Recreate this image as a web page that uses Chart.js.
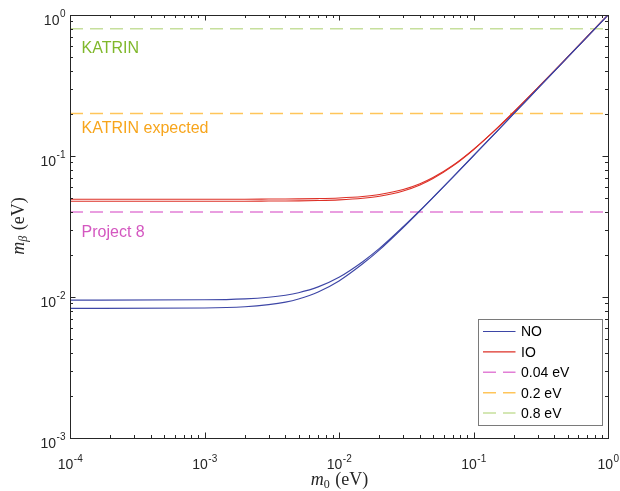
<!DOCTYPE html>
<html lang="en">
<head>
    <meta charset="UTF-8">
    <title>Neutrino mass m_beta vs m_0</title>
    <script src="https://cdn.jsdelivr.net/npm/chart.js"></script>
    <style>
        body { margin: 0; background: #fff; }
        #wrap { width: 620px; height: 491px; position: relative; }
    </style>
</head>
<body>
<div id="wrap"><canvas id="massChart"></canvas></div>
<script>
// lightest neutrino mass m0 (eV)
const m0 = [1e-4, 1e-3, 2e-3, 3e-3, 4e-3, 5e-3, 7e-3, 1e-2, 1.5e-2, 2e-2, 3e-2, 4e-2, 5e-2, 7e-2, 0.1, 0.15, 0.2, 0.3, 0.5, 0.7, 1];

// m_beta bands (eV)
const noUpper = [0.0095, 0.00955, 0.0097, 0.00996, 0.0103, 0.01073, 0.0118, 0.0138, 0.0178, 0.0221, 0.0315, 0.04111, 0.0509, 0.0706, 0.1005, 0.1503, 0.2002, 0.3002, 0.5001, 0.7, 1.0];
const noLower = [0.0083, 0.00836, 0.00853, 0.00883, 0.0092, 0.00969, 0.01086, 0.0130, 0.0172, 0.0216, 0.0311, 0.04085, 0.0507, 0.0705, 0.1004, 0.1502, 0.2002, 0.3001, 0.5001, 0.7, 1.0];
const ioUpper = [0.0494, 0.0494, 0.0494, 0.04949, 0.04956, 0.04965, 0.04989, 0.0504, 0.05162, 0.05329, 0.05779, 0.06356, 0.07029, 0.08567, 0.1115, 0.1579, 0.206, 0.304, 0.5024, 0.7017, 1.0];
const ioLower = [0.0478, 0.0478, 0.0478, 0.0479, 0.04797, 0.04806, 0.04831, 0.04884, 0.0501, 0.05182, 0.05644, 0.06233, 0.06917, 0.08476, 0.1108, 0.1574, 0.2056, 0.3038, 0.5023, 0.7016, 1.0];

// experimental sensitivities (eV)
const limits = [0.04, 0.2, 0.8];
const limitLabels = ['0.04 eV', '0.2 eV', '0.8 eV'];
const limitNames = ['Project 8', 'KATRIN expected', 'KATRIN'];
const limitColors = ['#e27fd6', '#ffc55a', '#c6df9c'];
const nameColors = ['#d457c0', '#f7a51c', '#80b82c'];
const nameY = [0.0288, 0.156, 0.58];   // where each name sits (data units)

const xRange = [1e-4, 1];
const yRange = [1e-3, 1];

function pts(ys) { return m0.map((x, i) => ({ x: x, y: ys[i] })); }

const datasets = [
    { label: 'NO', data: pts(noUpper), borderColor: '#3d46a6' },
    { label: '', data: pts(noLower), borderColor: '#3d46a6' },
    { label: 'IO', data: pts(ioUpper), borderColor: '#dd3027' },
    { label: '', data: pts(ioLower), borderColor: '#dd3027' }
].map(d => Object.assign(d, { borderWidth: 1.1, pointRadius: 0, cubicInterpolationMode: 'monotone', fill: false }));

limits.forEach((v, i) => {
    datasets.push({
        label: limitLabels[i],
        data: xRange.map(x => ({ x: x, y: v })),
        borderColor: limitColors[i],
        borderWidth: 1.5,
        borderDash: [13, 7],
        pointRadius: 0,
        fill: false
    });
});

const INK = '#262626';

function drawPow(ctx, exp, x, y, align) {
    ctx.font = '14px "Liberation Sans", Arial, sans-serif';
    const wb = ctx.measureText('10').width;
    ctx.font = '10px "Liberation Sans", Arial, sans-serif';
    const we = ctx.measureText(String(exp)).width;
    const start = align === 'right' ? x - wb - we : x - (wb + we) / 2;
    ctx.textAlign = 'left';
    ctx.textBaseline = 'alphabetic';
    ctx.font = '14px "Liberation Sans", Arial, sans-serif';
    ctx.fillText('10', start, y);
    ctx.font = '10px "Liberation Sans", Arial, sans-serif';
    ctx.fillText(String(exp), start + wb + 0.5, y - 7.5);
}

const decor = {
    id: 'decor',
    afterDatasetsDraw(chart) {
        const ctx = chart.ctx;
        const xs = chart.scales.x, ys = chart.scales.y;
        const a = chart.chartArea;
        ctx.save();

        // labels under the limit lines
        ctx.font = '16px "Liberation Sans", Arial, sans-serif';
        ctx.textAlign = 'left';
        ctx.textBaseline = 'middle';
        limitNames.forEach((t, i) => {
            ctx.fillStyle = nameColors[i];
            ctx.fillText(t, xs.getPixelForValue(1.22e-4), ys.getPixelForValue(nameY[i]));
        });

        // frame
        ctx.strokeStyle = INK;
        ctx.lineWidth = 1;
        ctx.strokeRect(Math.round(a.left) + 0.5, Math.round(a.top) + 0.5,
            Math.round(a.right - a.left), Math.round(a.bottom - a.top));

        // ticks, inward on all four sides
        ctx.beginPath();
        for (let e = -4; e <= 0; e++) {
            for (let k = 1; k <= 9; k++) {
                const v = k * Math.pow(10, e);
                if (v > 1.0001) break;
                const len = k === 1 ? 5.5 : 3;
                const px = Math.round(xs.getPixelForValue(v)) + 0.5;
                ctx.moveTo(px, a.bottom); ctx.lineTo(px, a.bottom - len);
                ctx.moveTo(px, a.top); ctx.lineTo(px, a.top + len);
            }
        }
        for (let e = -3; e <= 0; e++) {
            for (let k = 1; k <= 9; k++) {
                const v = k * Math.pow(10, e);
                if (v > 1.0001) break;
                const len = k === 1 ? 5.5 : 3;
                const py = Math.round(ys.getPixelForValue(v)) + 0.5;
                ctx.moveTo(a.left, py); ctx.lineTo(a.left + len, py);
                ctx.moveTo(a.right, py); ctx.lineTo(a.right - len, py);
            }
        }
        ctx.stroke();

        // tick labels
        ctx.fillStyle = INK;
        for (let e = -4; e <= 0; e++) {
            drawPow(ctx, e, xs.getPixelForValue(Math.pow(10, e)), a.bottom + 31, 'center');
        }
        for (let e = -3; e <= 0; e++) {
            drawPow(ctx, e, 65, ys.getPixelForValue(Math.pow(10, e)) + 9.5, 'right');
        }

        // axis titles
        const serif = '"Liberation Serif", "Times New Roman", serif';
        function mathTitle(sub, cx, cy) {
            ctx.textBaseline = 'alphabetic';
            ctx.textAlign = 'left';
            ctx.font = 'italic 18px ' + serif;
            const wm = ctx.measureText('m').width;
            ctx.font = (sub === '0' ? '' : 'italic ') + '12px ' + serif;
            const ws = ctx.measureText(sub).width;
            ctx.font = '18px ' + serif;
            const wr = ctx.measureText(' (eV)').width;
            let x = cx - (wm + ws + wr) / 2;
            ctx.font = 'italic 18px ' + serif;
            ctx.fillText('m', x, cy); x += wm;
            ctx.font = (sub === '0' ? '' : 'italic ') + '12px ' + serif;
            ctx.fillText(sub, x, cy + 3); x += ws + 1;
            ctx.font = '18px ' + serif;
            ctx.fillText(' (eV)', x, cy);
        }
        ctx.fillStyle = INK;
        mathTitle('0', (a.left + a.right) / 2, 485);
        ctx.save();
        ctx.translate(24, (a.top + a.bottom) / 2);
        ctx.rotate(-Math.PI / 2);
        mathTitle('\u03b2', 0, 0);
        ctx.restore();

        // legend
        const items = chart.data.datasets.filter(d => d.label);
        const bx = 478.5, by = 319.5, bw = 124, bh = 106;
        ctx.fillStyle = '#fff';
        ctx.fillRect(bx, by, bw, bh);
        ctx.strokeStyle = '#7a7a7a';
        ctx.lineWidth = 1;
        ctx.strokeRect(bx, by, bw, bh);
        ctx.font = '14px "Liberation Sans", Arial, sans-serif';
        ctx.textBaseline = 'middle';
        items.forEach((d, i) => {
            const y = by + 12 + i * 20.4;
            ctx.strokeStyle = d.borderColor;
            ctx.lineWidth = d.borderDash ? 1.5 : 1.1;
            ctx.setLineDash(d.borderDash || []);
            ctx.beginPath();
            ctx.moveTo(bx + 4.5, y); ctx.lineTo(bx + 37, y);
            ctx.stroke();
            ctx.setLineDash([]);
            ctx.fillStyle = '#000';
            ctx.fillText(d.label, bx + 42.5, y + 1);
        });
        ctx.restore();
    }
};

new Chart(document.getElementById('massChart'), {
    type: 'line',
    data: { datasets: datasets },
    options: {
        responsive: true,
        maintainAspectRatio: false,
        animation: false,
        layout: { padding: { left: 70, top: 15, right: 12, bottom: 53 } },
        plugins: { legend: { display: false }, tooltip: { enabled: false } },
        scales: {
            x: {
                type: 'logarithmic', min: xRange[0], max: xRange[1],
                ticks: { display: false }, grid: { display: false }, border: { display: false },
                afterFit(s) { s.height = 0; }
            },
            y: {
                type: 'logarithmic', min: yRange[0], max: yRange[1],
                ticks: { display: false }, grid: { display: false }, border: { display: false },
                afterFit(s) { s.width = 0; }
            }
        }
    },
    plugins: [decor]
});
</script>
</body>
</html>
